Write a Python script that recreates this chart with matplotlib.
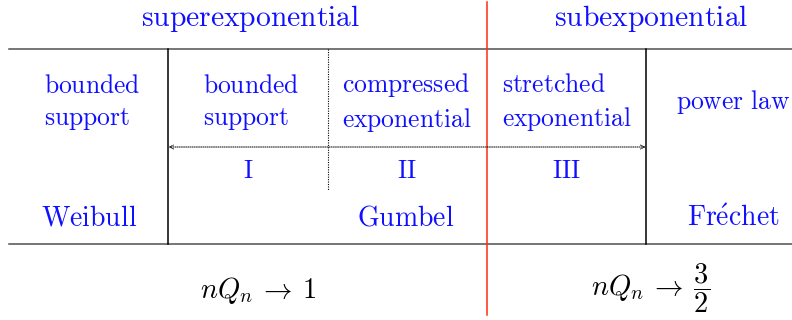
# Diagram: classes of tail behaviour vs. extreme value limit
import matplotlib
matplotlib.use("Agg")
from matplotlib import pyplot as plt

plt.rcParams['mathtext.fontset'] = 'cm'

# %% labels
header_labels = [r'$\mathrm{superexponential}$', r'$\mathrm{subexponential}$']
tail_labels = [r'$\mathrm{bounded}$' + '\n' + r'$\mathrm{support}$',
               r'$\mathrm{bounded}$' + '\n' + r'$\mathrm{support}$',
               r'$\mathrm{compressed}$' + '\n' + r'$\mathrm{exponential}$',
               r'$\mathrm{stretched}$' + '\n' + r'$\mathrm{exponential}$',
               r'$\mathrm{power\ law}$']
regime_labels = [r'$\mathrm{I}$', r'$\mathrm{II}$', r'$\mathrm{III}$']
limit_labels = [r'$\mathrm{Weibull}$', r'$\mathrm{Gumbel}$', r"$\mathrm{Fr\acute{e}chet}$"]
nq_labels = [r'$nQ_n \:\to\: 1$', r'$nQ_n \:\to\: \dfrac{3}{2}$']

blue = '#1010ff'

# %% figure in pixel coordinates
fig = plt.figure(figsize=(7.92, 3.2), dpi=100)
ax = fig.add_axes([0, 0, 1, 1])
ax.set_xlim(0, 792)
ax.set_ylim(320, 0)
ax.axis('off')

# horizontal rules
ax.plot([9, 792], [48.5, 48.5], color='#505050', lw=1.1)
ax.plot([9, 792], [243.5, 243.5], color='#505050', lw=1.1)
# vertical separators
ax.plot([168.3, 168.3], [48.5, 243.5], color='black', lw=1.1)
ax.plot([645.7, 645.7], [48.5, 243.5], color='black', lw=1.1)
ax.plot([327.5, 327.5], [48.5, 190], color='black', lw=0.8, ls=(0, (1, 1.2)))
ax.plot([486.5, 486.5], [2, 315], color='#ff2a10', lw=1.1)
# dotted double arrow
ax.annotate('', xy=(168.5, 147), xytext=(645.5, 147),
            arrowprops=dict(arrowstyle='<->', lw=0.7, ls=(0, (1, 1.2)),
                            color='black', shrinkA=0, shrinkB=0,
                            mutation_scale=7))

# header
ax.text(251, 18, header_labels[0], color=blue, fontsize=21.3, ha='center', va='center')
ax.text(651, 18, header_labels[1], color=blue, fontsize=21.3, ha='center', va='center')

# tail types
tail_x = [44, 203, 407, 502, 733]
tail_ha = ['left', 'left', 'center', 'left', 'center']
for x, lab, ha in zip(tail_x, tail_labels, tail_ha):
    ax.text(x, 102.5, lab, color=blue, fontsize=18.4, ha=ha, va='center',
            multialignment='left', linespacing=1.3)

# regimes
for x, lab in zip([248, 407, 566], regime_labels):
    ax.text(x, 171, lab, color=blue, fontsize=18.4, ha='center', va='center')

# limits
for x, lab in zip([89, 406, 733], limit_labels):
    ax.text(x, 218, lab, color=blue, fontsize=20, ha='center', va='center')

# nQ_n
ax.text(258, 290, nq_labels[0], color='black', fontsize=20.5, ha='center', va='center')
ax.text(651, 288, nq_labels[1], color='black', fontsize=20.5, ha='center', va='center')

fig.savefig('out.png', dpi=100)
